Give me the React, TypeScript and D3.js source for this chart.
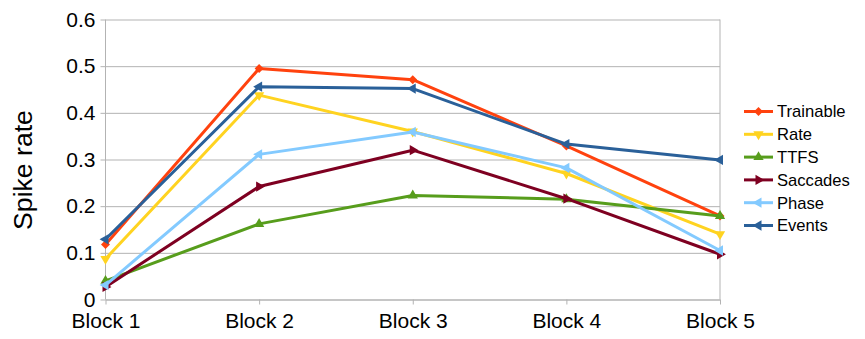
// Spike rate per block, one line per encoding
import React, { useRef, useEffect } from 'react';
import * as d3 from 'd3';

const blocks = ['Block 1', 'Block 2', 'Block 3', 'Block 4', 'Block 5'];
const seriesNames = ['Trainable', 'Rate', 'TTFS', 'Saccades', 'Phase', 'Events'];
const trainable = [0.118, 0.495, 0.471, 0.329, 0.179];
const rate = [0.087, 0.438, 0.360, 0.270, 0.140];
const ttfs = [0.040, 0.162, 0.223, 0.215, 0.179];
const saccades = [0.027, 0.242, 0.320, 0.216, 0.097];
const phase = [0.031, 0.311, 0.359, 0.282, 0.105];
const events = [0.129, 0.456, 0.452, 0.333, 0.299];
const yTicks = [0, 0.1, 0.2, 0.3, 0.4, 0.5, 0.6];

const colors = ['#ff420e', '#ffd320', '#579d1c', '#7e0021', '#83caff', '#2a6099'];
// marker shape + rotation for each series
const markers = [
  { type: d3.symbolSquare, size: 40, rot: 45 },
  { type: d3.symbolTriangle, size: 46, rot: 180 },
  { type: d3.symbolTriangle, size: 46, rot: 0 },
  { type: d3.symbolTriangle, size: 46, rot: 90 },
  { type: d3.symbolTriangle, size: 46, rot: -90 },
  { type: d3.symbolTriangle, size: 46, rot: -90 },
];

const width = 865;
const height = 339;
const margin = { top: 19.5, right: 145, bottom: 39.5, left: 105.5 };
const font = '"Liberation Sans", Arial, sans-serif';

export default function App() {
  const ref = useRef<SVGSVGElement>(null);
  const allSeries = [trainable, rate, ttfs, saccades, phase, events];

  useEffect(() => {
    const svg = d3.select(ref.current);
    svg.selectAll('*').remove();

    const x = d3.scalePoint().domain(blocks).range([margin.left, width - margin.right]);
    const y = d3.scaleLinear().domain([0, 0.6]).range([height - margin.bottom, margin.top]);
    const x0 = margin.left, x1 = width - margin.right;

    // grid
    svg.append('g')
      .attr('transform', `translate(${x0},0)`)
      .call(d3.axisLeft(y).tickValues(yTicks).tickSize(-(x1 - x0)).tickFormat(() => ''))
      .call(g => g.select('.domain').remove())
      .call(g => g.selectAll('line').attr('stroke', '#b3b3b3'));

    // y axis labels + outer ticks
    svg.append('g')
      .attr('transform', `translate(${x0},0)`)
      .call(d3.axisLeft(y).tickValues(yTicks).tickSize(5).tickPadding(5)
        .tickFormat(d => (+d === 0 ? '0' : (+d).toFixed(1))))
      .call(g => g.select('.domain').remove())
      .call(g => g.selectAll('line').attr('stroke', '#b3b3b3'))
      .call(g => g.selectAll('text').attr('font-family', font).attr('font-size', 21).attr('fill', '#000'));

    // x axis
    svg.append('g')
      .attr('transform', `translate(0,${y(0)})`)
      .call(d3.axisBottom(x).tickSize(5).tickPadding(9).tickSizeOuter(0))
      .call(g => g.select('.domain').attr('stroke', '#b3b3b3'))
      .call(g => g.selectAll('line').attr('stroke', '#b3b3b3'))
      .call(g => g.selectAll('text').attr('font-family', font).attr('font-size', 21).attr('fill', '#000'));

    // left and right frame lines
    [x0, x1].forEach(px => {
      svg.append('line')
        .attr('x1', px).attr('x2', px)
        .attr('y1', y(0.6)).attr('y2', y(0))
        .attr('stroke', '#b3b3b3');
    });

    // axis title
    svg.append('text')
      .attr('transform', `translate(32,170) rotate(-90)`)
      .attr('text-anchor', 'middle')
      .attr('font-family', font)
      .attr('font-size', 26.6)
      .text('Spike rate');

    const line = d3.line<number>()
      .x((_, i) => x(blocks[i]) as number)
      .y(d => y(d));

    allSeries.forEach((vals, s) => {
      const g = svg.append('g');
      g.append('path')
        .attr('d', line(vals))
        .attr('fill', 'none')
        .attr('stroke', colors[s])
        .attr('stroke-width', 3)
        .attr('stroke-linejoin', 'round');
      const m = markers[s];
      g.selectAll('path.mk')
        .data(vals)
        .enter()
        .append('path')
        .attr('class', 'mk')
        .attr('d', d3.symbol(m.type, m.size)())
        .attr('transform', (d, i) => `translate(${x(blocks[i])},${y(d)}) rotate(${m.rot})`)
        .attr('fill', colors[s]);
    });

    // legend
    const lg = svg.append('g');
    seriesNames.forEach((name, s) => {
      const cy = 111.5 + s * 22.8;
      lg.append('line')
        .attr('x1', 744).attr('x2', 773)
        .attr('y1', cy).attr('y2', cy)
        .attr('stroke', colors[s]).attr('stroke-width', 3);
      const m = markers[s];
      lg.append('path')
        .attr('d', d3.symbol(m.type, m.size)())
        .attr('transform', `translate(758.5,${cy}) rotate(${m.rot})`)
        .attr('fill', colors[s]);
      lg.append('text')
        .attr('x', 777).attr('y', cy)
        .attr('dy', '0.35em')
        .attr('font-family', font)
        .attr('font-size', 16.6)
        .text(name);
    });
  }, []);

  return (
    <svg ref={ref} width={width} height={height}
      style={{ position: 'absolute', left: 0, top: 0, background: '#fff' }} />
  );
}
